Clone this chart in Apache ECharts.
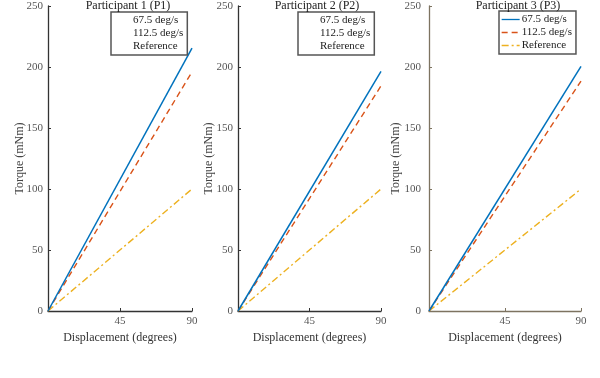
<!DOCTYPE html>
<html>
<head>
<meta charset="utf-8">
<script src="https://cdn.jsdelivr.net/npm/echarts@6/dist/echarts.min.js"></script>
<style>
html,body{margin:0;padding:0;background:#fff;}
#chart{width:600px;height:378px;}
</style>
</head>
<body>
<div id="chart"></div>
<script>
// ---- data ----
const panelTitles = ['Participant 1 (P1)', 'Participant 2 (P2)', 'Participant 3 (P3)'];
const seriesNames = ['67.5 deg/s', '112.5 deg/s', 'Reference'];
const displacement = [0, 90];
const p1_675 = [0, 215.5];
const p1_1125 = [0, 196];
const p1_ref = [0, 100];
const p2_675 = [0, 196.5];
const p2_1125 = [0, 184.5];
const p2_ref = [0, 100];
const p3_675 = [0, 200.5];
const p3_1125 = [0, 188.5];
const p3_ref = [0, 100];
const xTicks = [0, 45, 90];
const yTicks = [0, 50, 100, 150, 200, 250];

const panelData = [
  [p1_675, p1_1125, p1_ref],
  [p2_675, p2_1125, p2_ref],
  [p3_675, p3_1125, p3_ref]
];

// ---- layout / style ----
const FONT = 'Liberation Serif';
const colors = ['#0072BD', '#D95319', '#EDB120'];
const dashes = ['solid', [6, 4], [7, 3, 2, 3]];
const grids = [
  {left: 48, top: 6, width: 144, height: 305},
  {left: 238, top: 6, width: 143, height: 305},
  {left: 429, top: 6, width: 152, height: 305}
];
const axisColors = ['#333333', '#333333', '#7d7360'];
const yNameGaps = [22.5, 23.5, 27.5];
const yLabelMargins = [5, 5, 8];
const titleCenters = [128, 317, 518];
const legendBoxes = [
  {left: 111, top: 12, w: 75, icons: false},
  {left: 298, top: 12, w: 71, icons: false},
  {left: 499, top: 11, w: 78, icons: true}
];

function pairs(xs, ys) { return xs.map((x, i) => [x, ys[i]]); }

const option = {
  animation: false,
  backgroundColor: '#ffffff',
  textStyle: {fontFamily: FONT},
  title: panelTitles.map((t, i) => ({
    text: t,
    left: titleCenters[i],
    top: 0,
    padding: 0,
    textAlign: 'center',
    textStyle: {fontFamily: FONT, fontSize: 12, fontWeight: 'normal', color: '#222'}
  })),
  grid: grids,
  xAxis: grids.map((g, i) => ({
    type: 'value', gridIndex: i, min: xTicks[0], max: xTicks[xTicks.length - 1], interval: 45,
    name: 'Displacement (degrees)', nameLocation: 'middle', nameGap: 21,
    nameMoveOverlap: false,
    nameTextStyle: {fontFamily: FONT, fontSize: 12, color: '#333'},
    axisLine: {show: true, onZero: false, lineStyle: {color: axisColors[i], width: 1.3}},
    axisTick: {show: true, inside: true, length: 3, lineStyle: {color: axisColors[i]}},
    axisLabel: {showMinLabel: false, fontFamily: FONT, fontSize: 11, color: '#555', margin: 5},
    splitLine: {show: false}
  })),
  yAxis: grids.map((g, i) => ({
    type: 'value', gridIndex: i, min: yTicks[0], max: yTicks[yTicks.length - 1], interval: 50,
    name: 'Torque (mNm)', nameLocation: 'middle', nameGap: yNameGaps[i],
    nameMoveOverlap: false,
    nameTextStyle: {fontFamily: FONT, fontSize: 12, color: '#444'},
    axisLine: {show: true, onZero: false, lineStyle: {color: axisColors[i], width: 1.3}},
    axisTick: {show: true, inside: true, length: 3, lineStyle: {color: axisColors[i]}},
    axisLabel: {fontFamily: FONT, fontSize: 11, color: '#555', margin: yLabelMargins[i]},
    splitLine: {show: false}
  })),
  legend: legendBoxes.map((b, i) => ({
    data: seriesNames,
    orient: 'vertical',
    left: b.left, top: b.top,
    width: b.w,
    padding: [3, 4, 3, 2],
    itemGap: 2,
    itemWidth: b.icons ? 18 : 17,
    itemHeight: 10,
    selectedMode: false,
    borderColor: '#555',
    borderWidth: 1.5,
    backgroundColor: '#fff',
    textStyle: {fontFamily: FONT, fontSize: 11, color: '#222', padding: [0, 0, 0, -3]},
    itemStyle: {opacity: 0},
    lineStyle: b.icons ? {width: 1.3} : {opacity: 0}
  })),
  series: []
};

panelData.forEach((arrs, p) => {
  arrs.forEach((ys, s) => {
    option.series.push({
      type: 'line',
      name: seriesNames[s],
      xAxisIndex: p, yAxisIndex: p,
      data: pairs(displacement, ys),
      symbol: 'none',
      color: colors[s],
      lineStyle: {color: colors[s], width: s === 0 ? 1.5 : 1.4, type: dashes[s]},
      z: 3 - s
    });
  });
});

const chart = echarts.init(document.getElementById('chart'), null, {renderer: 'canvas'});
chart.setOption(option);
</script>
</body>
</html>
